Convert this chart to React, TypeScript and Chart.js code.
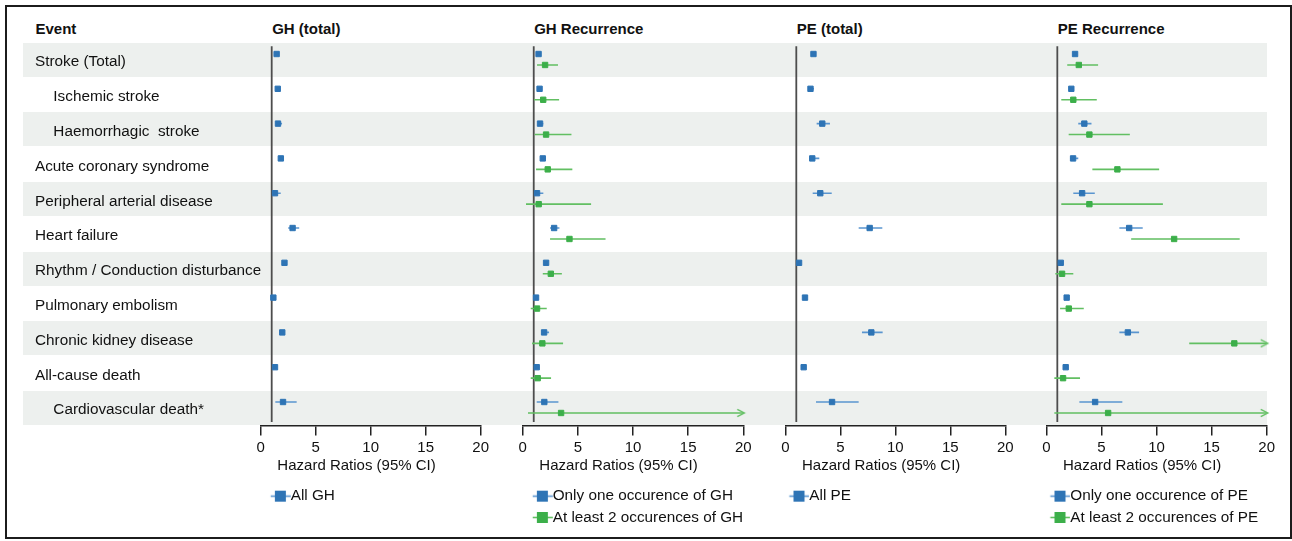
import React, { useEffect, useRef } from "react";
import { Chart, registerables } from "chart.js";

Chart.register(...registerables);

const FONT = '"Liberation Sans", Arial, Helvetica, sans-serif';
Chart.defaults.font.family = FONT;

// ---------------- data ----------------
const rowLabels = [
  "Stroke (Total)",
  "Ischemic stroke",
  "Haemorrhagic  stroke",
  "Acute coronary syndrome",
  "Peripheral arterial disease",
  "Heart failure",
  "Rhythm / Conduction disturbance",
  "Pulmonary embolism",
  "Chronic kidney disease",
  "All-cause death",
  "Cardiovascular death*",
];
const rowIndented = [false, true, true, false, false, false, false, false, false, false, true];
const firstColumnTitle = "Event";
const panelTitles = ["GH (total)", "GH Recurrence", "PE (total)", "PE Recurrence"];
const xTickValues = [0, 5, 10, 15, 20];
const xMin = 0;
const xMax = 20;
const refValue = 1;
const axisTitle = "Hazard Ratios (95% CI)";

const legendGHAll = "All GH";
const legendGHOne = "Only one occurence of GH";
const legendGHTwo = "At least 2 occurences of GH";
const legendPEAll = "All PE";
const legendPEOne = "Only one occurence of PE";
const legendPETwo = "At least 2 occurences of PE";

const ghAllHR = [1.45, 1.55, 1.57, 1.83, 1.3, 2.9, 2.16, 1.15, 1.96, 1.3, 2.03];
const ghAllLo = [1.35, 1.42, 1.35, 1.68, 1.1, 2.5, 2.05, 1.07, 1.8, 1.22, 1.33];
const ghAllHi = [1.55, 1.68, 1.94, 2.0, 1.82, 3.5, 2.28, 1.24, 2.15, 1.38, 3.27];

const ghOneHR = [1.44, 1.53, 1.57, 1.82, 1.3, 2.85, 2.12, 1.21, 1.94, 1.27, 1.96];
const ghOneLo = [1.3, 1.4, 1.4, 1.65, 1.05, 2.48, 2.0, 1.12, 1.75, 1.18, 1.27];
const ghOneHi = [1.6, 1.7, 1.87, 2.1, 1.87, 3.33, 2.25, 1.3, 2.39, 1.36, 3.24];

const ghTwoHR = [2.03, 1.86, 2.12, 2.27, 1.45, 4.24, 2.55, 1.3, 1.78, 1.36, 3.48];
const ghTwoLo = [1.3, 1.03, 1.09, 1.21, 0.3, 2.48, 1.82, 0.73, 0.85, 0.73, 0.48];
const ghTwoHi = [3.2, 3.3, 4.42, 4.5, 6.2, 7.51, 3.55, 2.18, 3.66, 2.57, 21];

const peAllHR = [2.56, 2.29, 3.36, 2.45, 3.18, 7.67, 1.25, 1.79, 7.82, 1.67, 4.25];
const peAllLo = [2.4, 2.1, 2.85, 2.18, 2.49, 6.67, 1.15, 1.65, 6.97, 1.55, 2.79];
const peAllHi = [2.75, 2.6, 4.06, 3.09, 4.22, 8.82, 1.35, 1.95, 8.85, 1.8, 6.67];

const peOneHR = [2.61, 2.27, 3.45, 2.43, 3.25, 7.52, 1.31, 1.85, 7.4, 1.76, 4.43];
const peOneLo = [2.45, 2.1, 2.9, 2.15, 2.45, 6.63, 1.2, 1.72, 6.63, 1.63, 3.0];
const peOneHi = [2.8, 2.5, 4.1, 2.9, 4.4, 8.75, 1.42, 1.98, 8.42, 1.9, 6.9];

const peTwoHR = [2.95, 2.45, 3.91, 6.45, 3.91, 11.6, 1.43, 2.04, 17.06, 1.52, 5.61];
const peTwoLo = [1.9, 1.36, 2.03, 4.18, 1.36, 7.7, 0.82, 1.25, 12.97, 0.73, 0.73];
const peTwoHi = [4.7, 4.58, 7.58, 10.24, 10.58, 17.55, 2.45, 3.4, 21, 3.06, 21];

// ---------------- styles ----------------
const BLUE = "#2e74b5";
const BLUE_LINE = "#5a95cf";
const GREEN = "#3caf4a";
const GREEN_LINE = "#62bf62";
const TEXT = "#111111";
const BAND = "#edf0ee";

const PAGE_W = 1292;
const PAGE_H = 541;
const AREA_TOP = 42.7;
const AREA_BOTTOM = 425.5;
const ROW_H = (AREA_BOTTOM - AREA_TOP) / rowLabels.length;
const LEGEND_TOP = 482.5;
const LEGEND_FONT = 15.3;
const LEGEND_PAD = 6;
const LABEL_LEFT = 35;

type Series = { label: string; hr: number[]; lo: number[]; hi: number[]; color: string; line: string; yOff: number };
type Panel = {
  title: string;
  canvasLeft: number;
  canvasWidth: number;
  axisLeft: number;
  axisRight: number;
  iconOff: number;
  labels: boolean;
  series: Series[];
};

const PANELS: Panel[] = [
  {
    title: panelTitles[0], canvasLeft: 0, canvasWidth: 500, axisLeft: 260.7, axisRight: 480.7, iconOff: 10, labels: true,
    series: [{ label: legendGHAll, hr: ghAllHR, lo: ghAllLo, hi: ghAllHi, color: BLUE, line: BLUE_LINE, yOff: 0.325 }],
  },
  {
    title: panelTitles[1], canvasLeft: 502, canvasWidth: 261, axisLeft: 522.7, axisRight: 743.3, iconOff: 10, labels: false,
    series: [
      { label: legendGHOne, hr: ghOneHR, lo: ghOneLo, hi: ghOneHi, color: BLUE, line: BLUE_LINE, yOff: 0.325 },
      { label: legendGHTwo, hr: ghTwoHR, lo: ghTwoLo, hi: ghTwoHi, color: GREEN, line: GREEN_LINE, yOff: 0.64 },
    ],
  },
  {
    title: panelTitles[2], canvasLeft: 765, canvasWidth: 260, axisLeft: 785.3, axisRight: 1005.3, iconOff: 4, labels: false,
    series: [{ label: legendPEAll, hr: peAllHR, lo: peAllLo, hi: peAllHi, color: BLUE, line: BLUE_LINE, yOff: 0.325 }],
  },
  {
    title: panelTitles[3], canvasLeft: 1026, canvasWidth: 262, axisLeft: 1046.3, axisRight: 1266.7, iconOff: 4, labels: false,
    series: [
      { label: legendPEOne, hr: peOneHR, lo: peOneLo, hi: peOneHi, color: BLUE, line: BLUE_LINE, yOff: 0.325 },
      { label: legendPETwo, hr: peTwoHR, lo: peTwoLo, hi: peTwoHi, color: GREEN, line: GREEN_LINE, yOff: 0.64 },
    ],
  },
];

function chevron(color: string): HTMLCanvasElement {
  const c = document.createElement("canvas");
  c.width = 16;
  c.height = 10;
  const ctx = c.getContext("2d")!;
  ctx.strokeStyle = color;
  ctx.lineWidth = 1.4;
  ctx.beginPath();
  ctx.moveTo(2, 1.3);
  ctx.lineTo(9, 5);
  ctx.lineTo(2, 8.7);
  ctx.stroke();
  return c;
}

function legendIcon(color: string, line: string, width: number, offset: number): HTMLCanvasElement {
  const c = document.createElement("canvas");
  c.width = width;
  c.height = 13;
  const ctx = c.getContext("2d")!;
  ctx.strokeStyle = line;
  ctx.lineWidth = 1.6;
  ctx.beginPath();
  ctx.moveTo(offset, 6.5);
  ctx.lineTo(offset + 20, 6.5);
  ctx.stroke();
  ctx.fillStyle = color;
  ctx.fillRect(offset + 4.2, 1, 11, 11);
  return c;
}

function buildConfig(p: Panel): any {
  const datasets: any[] = [];
  datasets.push({
    type: "line",
    data: [{ x: refValue, y: 0.1 }, { x: refValue, y: rowLabels.length - 0.1 }],
    borderColor: "#4d4d4d",
    borderWidth: 1.8,
    pointRadius: 0,
    clip: false,
    order: 3,
  });
  p.series.forEach((s) => {
    const ci: any[] = [];
    s.hr.forEach((_, i) => {
      const y = i + s.yOff;
      ci.push({ x: Math.max(s.lo[i], xMin), y }, { x: Math.min(s.hi[i], xMax), y }, { x: s.hi[i], y: null });
    });
    datasets.push({
      type: "line", data: ci, borderColor: s.line, borderWidth: 1.6, pointRadius: 0, spanGaps: false, clip: false, order: 2,
    });
    const arrows = s.hi
      .map((h, i) => (h > xMax ? { x: xMax, y: i + s.yOff } : null))
      .filter((a) => a !== null);
    if (arrows.length) {
      datasets.push({
        type: "scatter", data: arrows, pointStyle: chevron(s.line), pointRadius: 5, clip: false, order: 1,
      });
    }
    datasets.push({
      type: "scatter",
      label: s.label,
      data: s.hr.map((v, i) => ({ x: v, y: i + s.yOff })),
      pointStyle: "rect",
      pointRadius: 3.8,
      backgroundColor: s.color,
      borderColor: s.color,
      borderWidth: 1,
      clip: false,
      order: 0,
    });
  });

  const padL = p.labels ? LABEL_LEFT - p.canvasLeft : p.axisLeft - p.canvasLeft;
  const padR = p.canvasLeft + p.canvasWidth - p.axisRight;
  const rows = p.series.length;
  const legendH = rows * (LEGEND_FONT + LEGEND_PAD) + 10;
  const padB = PAGE_H - (LEGEND_TOP + legendH);

  // legend icon geometry
  const x0 = p.axisLeft + LEGEND_PAD;
  const s0 = p.axisLeft + p.iconOff;
  const W = s0 + 20 - x0 - LEGEND_FONT / 2;
  const center = x0 + W / 2;
  const Wi = Math.ceil(2 * (s0 + 20 - center));
  const offset = s0 - (center - Wi / 2);

  const yScale: any = {
    type: "linear",
    min: 0,
    max: rowLabels.length,
    reverse: true,
    display: p.labels,
    grid: { display: false, drawTicks: false },
    border: { display: false },
  };
  if (p.labels) {
    yScale.afterFit = (scale: any) => {
      scale.width = p.axisLeft - LABEL_LEFT;
    };
    yScale.afterBuildTicks = (scale: any) => {
      scale.ticks = rowLabels.map((_, i) => ({ value: i + 0.5 }));
    };
    yScale.ticks = {
      autoSkip: false,
      crossAlign: "far",
      padding: 0,
      labelOffset: 2,
      color: TEXT,
      font: { size: 15.3 },
      callback: (v: number) => {
        const i = Math.floor(v);
        return (rowIndented[i] ? "\u2003\u2009" : "") + rowLabels[i];
      },
    };
  }

  return {
    type: "scatter",
    data: { datasets },
    options: {
      animation: false,
      responsive: false,
      events: [],
      layout: { padding: { top: AREA_TOP, left: padL, right: padR, bottom: padB } },
      scales: {
        x: {
          type: "linear",
          min: xMin,
          max: xMax,
          afterBuildTicks: (scale: any) => {
            scale.ticks = xTickValues.map((v) => ({ value: v }));
          },
          ticks: { color: TEXT, font: { size: 15 }, padding: 3, maxRotation: 0, autoSkip: false },
          grid: { drawOnChartArea: false, drawTicks: true, tickLength: 10, color: "#222", lineWidth: 1.5 },
          border: { display: true, color: "#222", width: 1.5 },
          title: {
            display: true,
            text: "    " + axisTitle,
            align: "start",
            color: TEXT,
            font: { size: 15 },
            padding: { top: -3, bottom: 8 },
          },
        },
        y: yScale,
      },
      plugins: {
        tooltip: { enabled: false },
        legend: {
          display: true,
          position: "bottom",
          align: "start",
          fullSize: false,
          labels: {
            usePointStyle: true,
            pointStyleWidth: W,
            padding: LEGEND_PAD,
            color: TEXT,
            font: { size: LEGEND_FONT },
            generateLabels: () =>
              p.series.map((s) => ({
                text: s.label,
                pointStyle: legendIcon(s.color, s.line, Wi, offset),
                fillStyle: s.color,
                strokeStyle: s.color,
                fontColor: TEXT,
                lineWidth: 0,
                hidden: false,
              })),
          },
        },
      },
    },
  };
}

function PanelChart({ panel }: { panel: Panel }) {
  const ref = useRef<HTMLCanvasElement>(null);
  useEffect(() => {
    const chart = new Chart(ref.current!, buildConfig(panel));
    return () => chart.destroy();
  }, [panel]);
  return (
    <canvas
      ref={ref}
      width={panel.canvasWidth}
      height={PAGE_H}
      style={{ position: "absolute", left: panel.canvasLeft, top: 0, width: panel.canvasWidth, height: PAGE_H }}
    />
  );
}

export default function App() {
  const headerStyle: React.CSSProperties = {
    position: "absolute",
    top: 20,
    font: `bold 15px ${FONT}`,
    lineHeight: "18px",
    color: TEXT,
    whiteSpace: "nowrap",
  };
  return (
    <div
      style={{
        position: "fixed",
        left: 0,
        top: 0,
        width: PAGE_W,
        height: PAGE_H,
        background: "#ffffff",
        overflow: "hidden",
        fontFamily: FONT,
      }}
    >
      {rowLabels.map((_, i) =>
        i % 2 === 0 ? (
          <div
            key={"band" + i}
            style={{
              position: "absolute",
              left: 22.7,
              width: 1244,
              top: AREA_TOP + i * ROW_H,
              height: 34,
              background: BAND,
            }}
          />
        ) : null
      )}
      <div
        style={{
          position: "absolute",
          left: 5,
          top: 5,
          width: 1287,
          height: 534,
          boxSizing: "border-box",
          border: "2px solid #1c1c1c",
        }}
      />
      <div style={{ ...headerStyle, left: 35.5 }}>{firstColumnTitle}</div>
      {PANELS.map((p) => (
        <div key={"h" + p.title} style={{ ...headerStyle, left: p.axisLeft + 11.5 }}>
          {p.title}
        </div>
      ))}
      {PANELS.map((p) => (
        <PanelChart key={p.title} panel={p} />
      ))}
    </div>
  );
}
